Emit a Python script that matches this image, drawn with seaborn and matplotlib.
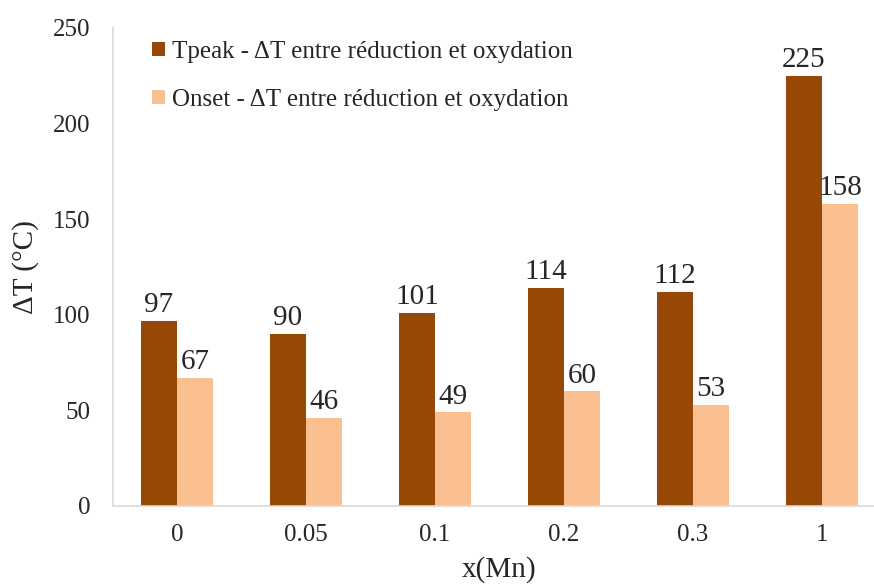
import matplotlib
matplotlib.use("Agg")
import matplotlib.pyplot as plt
import seaborn as sns
import pandas as pd

categories = ["0", "0.05", "0.1", "0.2", "0.3", "1"]
tpeak = [97, 90, 101, 114, 112, 225]
onset = [67, 46, 49, 60, 53, 158]
series_names = ["Tpeak - ΔT entre réduction et oxydation",
                "Onset - ΔT entre réduction et oxydation"]
colors = ["#974706", "#FAC090"]

df = pd.DataFrame({
    "x": categories * 2,
    "val": tpeak + onset,
    "serie": [series_names[0]] * len(categories) + [series_names[1]] * len(categories),
})

sns.set_style("white")
plt.rcParams["font.family"] = ["Liberation Serif", "DejaVu Serif"]

fig = plt.figure(figsize=(8.74, 5.85), dpi=100)
ax = fig.add_axes([112.5 / 874, 79 / 585, 774 / 874, 478 / 585])

sns.barplot(data=df, x="x", y="val", hue="serie", palette=colors,
            width=0.56, ax=ax, saturation=1, linewidth=0)

for cont in ax.containers:
    ax.bar_label(cont, fontsize=21, padding=2)

ax.set_xlim(-0.5, 5.5)
ax.set_ylim(0, 250)
ax.set_yticks(range(0, 251, 50))
ax.tick_params(axis="both", length=0, labelsize=18)
ax.tick_params(axis="x", pad=13)
ax.tick_params(axis="y", pad=16)
ax.set_ylabel("ΔT (°C)", fontsize=21, labelpad=10)
ax.set_xlabel("x(Mn)", fontsize=21, labelpad=7)

for s in ["top", "right"]:
    ax.spines[s].set_visible(False)
for s in ["left", "bottom"]:
    ax.spines[s].set_color("#D9D9D9")
    ax.spines[s].set_linewidth(1.2)

ax.legend(loc="upper left", bbox_to_anchor=(0.022, 1.02), frameon=False,
          fontsize=18, handlelength=0.5, handleheight=0.5, handletextpad=0.3,
          labelspacing=1.05)

fig.savefig("out.png", dpi=100)
